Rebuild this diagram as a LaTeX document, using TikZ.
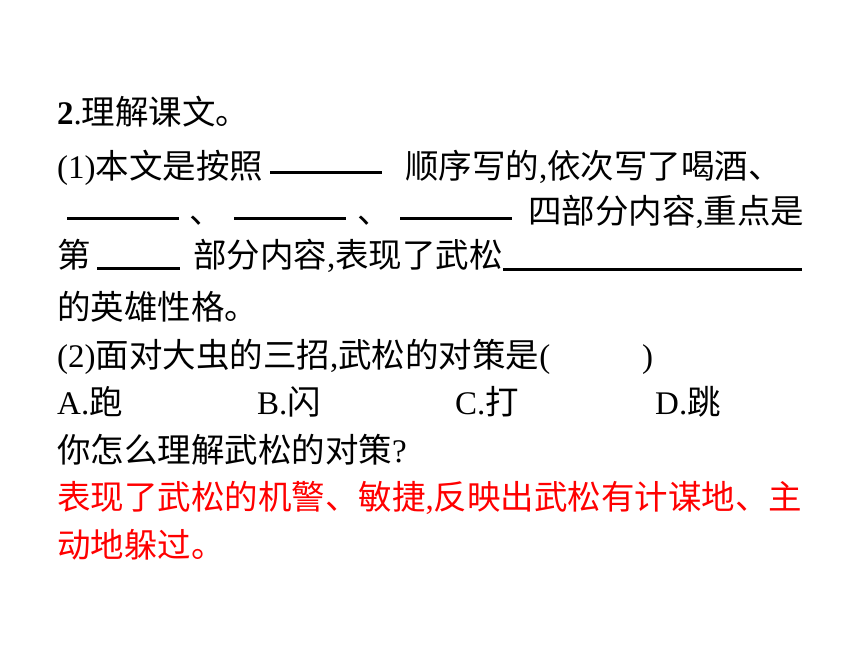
\documentclass[tikz,border=0pt]{standalone}
\usepackage{fontspec}
\setmainfont{Liberation Serif}
\newfontfamily\cjk{Noto Sans CJK SC}[Scale=1.015]
\newcommand\zh[1]{{\cjk #1}}
\begin{document}
\begin{tikzpicture}[x=1pt,y=-1pt,
  txt/.style={anchor=base west, inner sep=0pt, font=\fontsize{33}{38}\selectfont},
  ans/.style={txt, text=red},
  blank/.style={line width=3pt, black}]
\useasboundingbox (0,0) rectangle (860,645);
\fill[white] (0,0) rectangle (860,645);
% line 1
\node[txt] (l1) at (57,124) {\textbf{2}.\zh{理解课文。}};
% line 2
\node[txt] (l2a) at (57,178) {(1)\zh{本文是按照}};
\draw[blank] (270,172) -- (382,172);
\node[txt] (l2b) at (405,178) {\zh{顺序写的},\zh{依次写了喝酒、}};
% line 3
\draw[blank] (67,218) -- (179,218);
\node[txt] (l3a) at (189,223) {\zh{、}};
\draw[blank] (234,218) -- (346,218);
\node[txt] (l3b) at (357,223) {\zh{、}};
\draw[blank] (400,218) -- (512,218);
\node[txt] (l3c) at (528,223) {\zh{四部分内容},\zh{重点是}};
% line 4
\node[txt] (l4a) at (57,267) {\zh{第}};
\draw[blank] (97,268) -- (180,268);
\node[txt] (l4b) at (193,267) {\zh{部分内容},\zh{表现了武松}};
\draw[blank] (503,269) -- (802,269);
% line 5
\node[txt] (l5) at (57,319) {\zh{的英雄性格。}};
% line 6
\node[txt] (l6a) at (57,367) {(2)\zh{面对大虫的三招},\zh{武松的对策是}(};
\node[txt] (l6b) at (642,367) {)};
% line 7
\node[txt] (oA) at (57,414) {A.\zh{跑}};
\node[txt] (oB) at (257,414) {B.\zh{闪}};
\node[txt] (oC) at (455,414) {C.\zh{打}};
\node[txt] (oD) at (655,414) {D.\zh{跳}};
% line 8
\node[txt] (l8) at (57,462) {\zh{你怎么理解武松的对策}?};
% answer
\node[ans] (a1) at (57,509) {\zh{表现了武松的机警、敏捷},\zh{反映出武松有计谋地、主}};
\node[ans] (a2) at (57,557) {\zh{动地躲过。}};
\end{tikzpicture}
\end{document}
